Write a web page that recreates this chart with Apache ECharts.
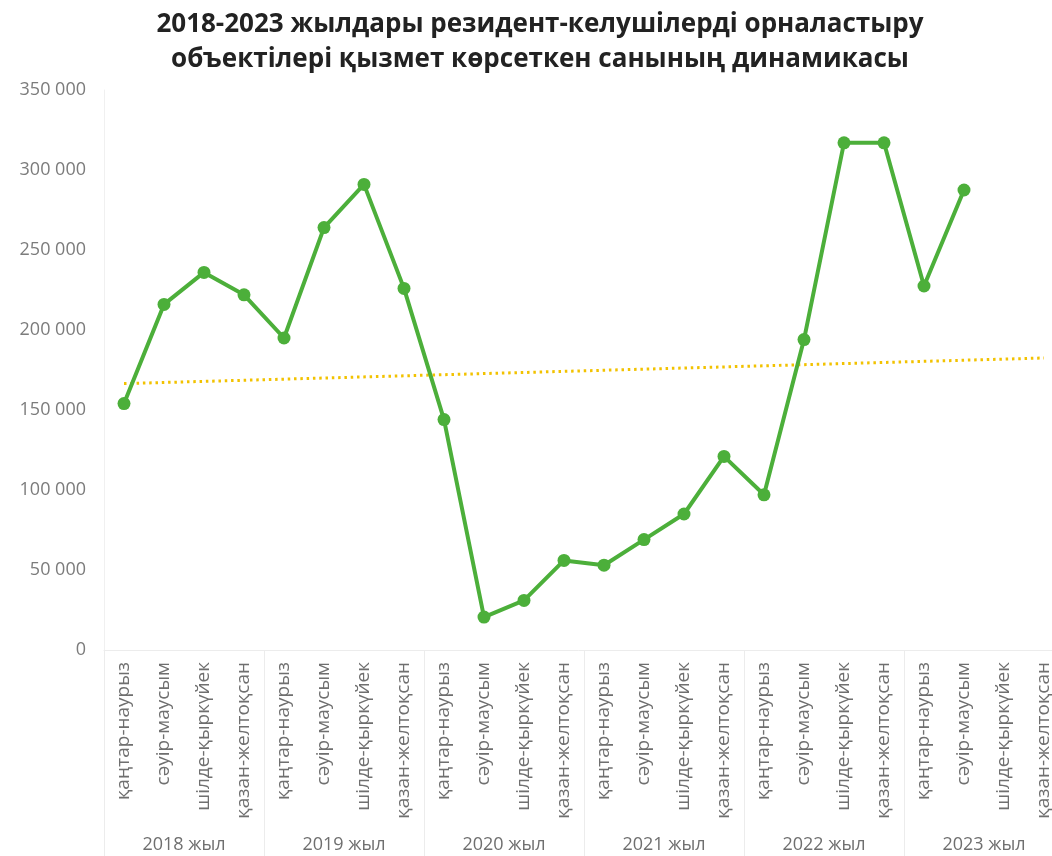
<!DOCTYPE html>
<html>
<head>
<meta charset="utf-8">
<script src="https://cdn.jsdelivr.net/npm/echarts@6/dist/echarts.min.js"></script>
<style>
  html, body { margin: 0; padding: 0; background: #ffffff; }
  #chart { width: 1052px; height: 856px; }
</style>
</head>
<body>
<div id="chart"></div>
<script>
// Quarter labels repeated for each year
const quarters = ['қаңтар-наурыз', 'сәуір-маусым', 'шілде-қыркүйек', 'қазан-желтоқсан'];
const years = ['2018 жыл', '2019 жыл', '2020 жыл', '2021 жыл', '2022 жыл', '2023 жыл'];

// Number of residents-visitors served, by quarter
const served = [
  154000, 216000, 236000, 222000,   // 2018
  195000, 264000, 291000, 226000,   // 2019
  144000, 20600, 31000, 56000,      // 2020
  53000, 69000, 85000, 121000,      // 2021
  97000, 194000, 317000, 317000,    // 2022
  227500, 287500, null, null        // 2023
];

// Linear trend: value at first and at last quarter
const trendEnds = [166500, 182500];

// Y axis ticks
const yTicks = [0, 50000, 100000, 150000, 200000, 250000, 300000, 350000];

const categories = [];
years.forEach(function () { quarters.forEach(function (q) { categories.push(q); }); });

const lastIndex = categories.length - 1;

const chart = echarts.init(document.getElementById('chart'), null, { renderer: 'canvas' });

chart.setOption({
  animation: false,
  backgroundColor: '#ffffff',
  title: {
    text: '2018-2023 жылдары резидент-келушілерді орналастыру\nобъектілері қызмет көрсеткен санының динамикасы',
    left: 535,
    top: 2,
    textAlign: 'center',
    textStyle: {
      fontFamily: 'Open Sans',
      fontWeight: 'bold',
      fontSize: 26,
      lineHeight: 35,
      color: '#222222'
    }
  },
  // the plot runs past the right edge, so the last year's band is cut off
  grid: {
    left: 104, width: 960, top: 90, bottom: 206,
    containLabel: false,
    outerBoundsMode: 'none'
  },
  xAxis: [
    {
      type: 'category',
      data: categories,
      boundaryGap: true,
      axisLine: { show: true, lineStyle: { color: '#ececec', width: 1 } },
      axisTick: { show: false },
      axisLabel: {
        interval: 0,
        rotate: 90,
        margin: 12,
        fontFamily: 'Open Sans',
        fontSize: 19,
        color: '#6f6f6f'
      },
      splitLine: { show: false }
    },
    {
      type: 'category',
      data: years,
      position: 'bottom',
      boundaryGap: true,
      axisLine: { show: false },
      axisTick: { show: true, length: 206, lineStyle: { color: '#ececec', width: 1 } },
      axisLabel: {
        interval: 0,
        margin: 186,
        fontFamily: 'Open Sans',
        fontSize: 18,
        color: '#6f6f6f'
      },
      splitLine: { show: false }
    }
  ],
  yAxis: {
    type: 'value',
    min: yTicks[0],
    max: yTicks[yTicks.length - 1],
    interval: yTicks[1] - yTicks[0],
    axisLine: { show: true, lineStyle: { color: '#f0f0f0', width: 1 } },
    axisTick: { show: false },
    splitLine: { show: false },
    axisLabel: {
      margin: 18,
      fontFamily: 'Open Sans',
      fontSize: 18,
      color: '#7c7c7c',
      formatter: function (v) {
        return String(v).replace(/\B(?=(\d{3})+(?!\d))/g, ' ');
      }
    }
  },
  series: [
    {
      name: 'trend',
      type: 'line',
      xAxisIndex: 0,
      data: [[0, trendEnds[0]], [lastIndex, trendEnds[1]]],
      symbol: 'none',
      lineStyle: { color: '#f2c200', width: 3, type: [2.5, 3.8], cap: 'butt' },
      z: 1,
      silent: true
    },
    {
      name: 'served',
      type: 'line',
      xAxisIndex: 0,
      data: served,
      connectNulls: false,
      symbol: 'circle',
      symbolSize: 13,
      itemStyle: { color: '#4caf3a' },
      lineStyle: { color: '#4caf3a', width: 4 },
      z: 2
    }
  ]
});
</script>
</body>
</html>
